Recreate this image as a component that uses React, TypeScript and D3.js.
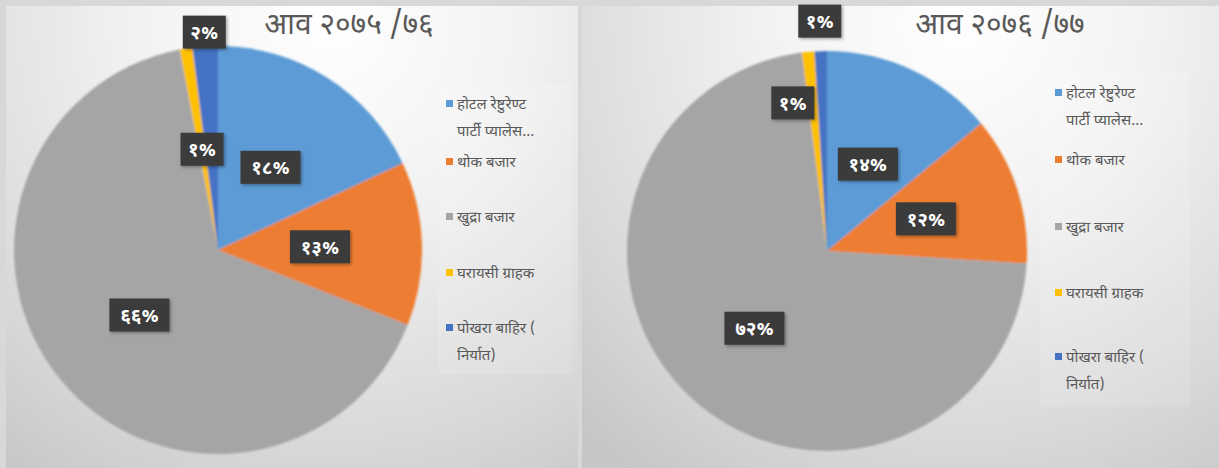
import React from "react";
import * as d3 from "d3";

const categories = [
  ["होटल रेष्टुरेण्ट", "पार्टी प्यालेस..."],
  ["थोक बजार"],
  ["खुद्रा बजार"],
  ["घरायसी ग्राहक"],
  ["पोखरा बाहिर (", "निर्यात)"],
];
const valuesA = [18, 13, 66, 1, 2];
const valuesB = [14, 12, 72, 1, 1];
const labelsA = ["१८%", "१३%", "६६%", "१%", "२%"];
const labelsB = ["१४%", "१२%", "७२%", "१%", "१%"];
const titleA = "आव २०७५ /७६";
const titleB = "आव २०७६ /७७";
const colors = ["#5B9BD5", "#ED7D31", "#A5A5A5", "#FFC000", "#4472C4"];

const FONT = "'Noto Sans Devanagari', 'Mangal', 'Nirmala UI', 'Lohit Devanagari', sans-serif";

type Panel = {
  x: number; y: number; w: number; h: number;
  cx: number; cy: number; r: number;
  values: number[]; labels: string[]; title: string; titleX: number;
  legendX: number; legendRows: number[]; legendBox: [number, number, number, number];
  labelPos: { k: number; a?: number }[];
  gradId: string; gcx: number;
};

const panels: Panel[] = [
  {
    x: 6, y: 6, w: 572, h: 462, cx: 218, cy: 250, r: 204,
    values: valuesA, labels: labelsA, title: titleA, titleX: 349,
    legendX: 446, legendRows: [104, 162, 217, 273, 328], legendBox: [438, 84, 134, 290],
    labelPos: [{ k: 0.48 }, { k: 0.5 }, { k: 0.5 }, { k: 0.5 }, { k: 1.07 }],
    gradId: "gA", gcx: 330,
  },
  {
    x: 582, y: 6, w: 637, h: 462, cx: 827, cy: 251, r: 200,
    values: valuesB, labels: labelsB, title: titleB, titleX: 1000,
    legendX: 1055, legendRows: [93, 160, 227, 293, 357], legendBox: [1040, 72, 150, 335],
    labelPos: [{ k: 0.48 }, { k: 0.52 }, { k: 0.53 }, { k: 0.76, a: 347 }, { k: 1.15 }],
    gradId: "gB", gcx: 960,
  },
];

function PiePanel({ p }: { p: Panel }) {
  const pie = d3.pie<number>().sort(null).value((d) => d);
  const arcs = pie(p.values);
  const arc = d3.arc<d3.PieArcDatum<number>>().innerRadius(0).outerRadius(p.r);
  return (
    <g>
      <rect x={p.x} y={p.y} width={p.w} height={p.h} fill={`url(#${p.gradId})`} />
      <rect x={p.legendBox[0]} y={p.legendBox[1]} width={p.legendBox[2]} height={p.legendBox[3]} fill="#ffffff" opacity={0.12} />
      <g transform={`translate(${p.cx},${p.cy})`} filter="url(#pieShadow)">
        {arcs.map((a, i) => (
          <path key={i} d={arc(a) || ""} fill={colors[i]} />
        ))}
      </g>
      <text x={p.titleX} y={34} textAnchor="middle" fontFamily={FONT} fontSize={30} fill="#595959">
        {p.title}
      </text>
      {arcs.map((a, i) => {
        const lp = p.labelPos[i];
        const mid = lp.a !== undefined ? (lp.a * Math.PI) / 180 : (a.startAngle + a.endAngle) / 2;
        const rr = p.r * lp.k;
        const lx = p.cx + rr * Math.sin(mid);
        const ly = p.cy - rr * Math.cos(mid);
        const txt = p.labels[i];
        const bw = txt.length > 2 ? 60 : 43;
        const bh = 33;
        return (
          <g key={"l" + i}>
            <rect x={lx - bw / 2} y={ly - bh / 2} width={bw} height={bh} fill="#3a3a3a" filter="url(#boxShadow)" />
            <text x={lx} y={ly + 7} textAnchor="middle" fontFamily={FONT} fontWeight="bold" fontSize={19} fill="#ffffff">
              {txt}
            </text>
          </g>
        );
      })}
      {categories.map((lines, i) => (
        <g key={"g" + i}>
          <rect x={p.legendX} y={p.legendRows[i] - 4} width={7} height={7} fill={colors[i]} />
          {lines.map((ln, j) => (
            <text key={j} x={p.legendX + 11} y={p.legendRows[i] + 5 + j * 27} fontFamily={FONT} fontSize={15} fill="#595959">
              {ln}
            </text>
          ))}
        </g>
      ))}
    </g>
  );
}

export default function App() {
  return (
    <div style={{ position: "absolute", left: 0, top: 0 }}>
      <svg width={1219} height={468} style={{ display: "block" }}>
        <defs>
          {panels.map((p) => (
            <radialGradient key={p.gradId} id={p.gradId} gradientUnits="userSpaceOnUse" cx={p.gcx} cy={20} r={560}>
              <stop offset="0" stopColor="#ffffff" />
              <stop offset="0.35" stopColor="#f2f2f2" />
              <stop offset="0.75" stopColor="#d9d9d9" />
              <stop offset="1" stopColor="#c6c6c6" />
            </radialGradient>
          ))}
          <filter id="pieShadow" x="-20%" y="-20%" width="140%" height="140%">
            <feGaussianBlur in="SourceGraphic" stdDeviation="0.8" />
          </filter>
          <filter id="boxShadow" x="-30%" y="-30%" width="160%" height="160%">
            <feDropShadow dx="1.5" dy="1.5" stdDeviation="1.5" floodColor="#000" floodOpacity="0.35" />
          </filter>
        </defs>
        <rect x={0} y={0} width={1219} height={468} fill="#d8d8d8" />
        {panels.map((p) => (
          <PiePanel key={p.gradId} p={p} />
        ))}
      </svg>
    </div>
  );
}
